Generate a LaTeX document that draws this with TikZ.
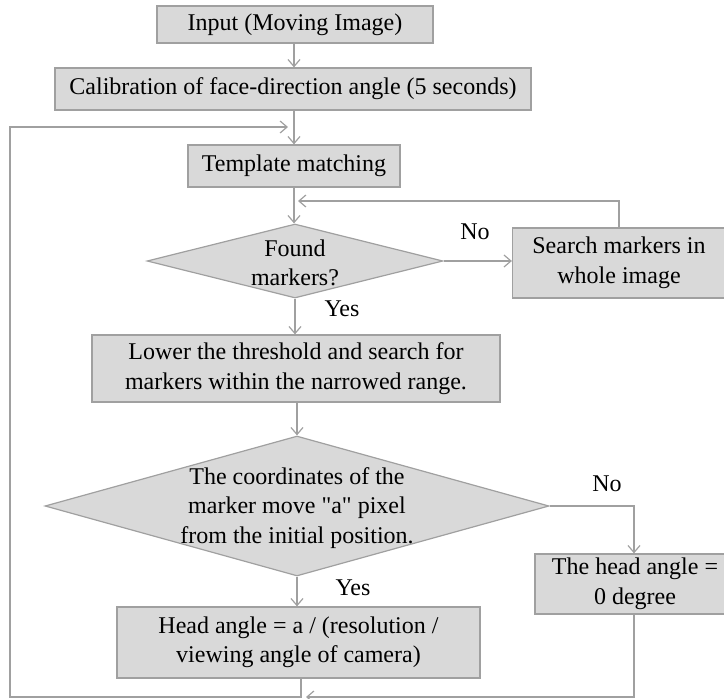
\documentclass[tikz,border=0pt]{standalone}
\usepackage{fontspec}
\setmainfont{Liberation Serif}
\font\qtfont="Liberation Serif" at 24pt
\usetikzlibrary{shapes.geometric,arrows.meta}
\definecolor{boxfill}{HTML}{D9D9D9}
\definecolor{boxline}{HTML}{A0A0A0}
\definecolor{conn}{HTML}{A0A0A0}
\tikzset{
  txt/.style={font=\fontsize{24}{29.5}\selectfont, align=center, text=black},
  box/.style={draw=boxline, fill=boxfill, line width=1.2pt, inner sep=0pt, txt},
  dia/.style={diamond, draw=boxline, fill=boxfill, line width=1.2pt, inner sep=0pt},
  lbl/.style={txt, inner sep=0pt},
  conn/.style={draw=conn, line width=1.2pt},
  arr/.style={conn, -{Straight Barb[length=7pt,width=12pt,line width=1.2pt]}},
}
\begin{document}
\begin{tikzpicture}[x=1pt,y=-1pt]
\clip (0,0) rectangle (724,699);
\useasboundingbox (0,0) rectangle (724,699);
% boxes
\node[box, minimum width=276pt, minimum height=37pt] (in) at (295,24.5) {Input (Moving Image)};
\node[box, minimum width=476pt, minimum height=42pt] (cal) at (293,89) {Calibration of face-direction angle (5 seconds)};
\node[box, minimum width=212pt, minimum height=42pt] (tm) at (294,166) {Template matching};
\node[dia, minimum width=296pt, minimum height=74pt] (d1) at (295,261) {};
\node[lbl] (d1t) at (295,263) {Found\\markers?};
\node[box, minimum width=222pt, minimum height=70pt] (search) at (623.5,263) {};
\node[lbl] (searcht) at (619,263) {Search markers in\\whole image};
\node[box, minimum width=408pt, minimum height=67pt] (lower) at (296,368.5) {Lower the threshold and search for\\markers within the narrowed range.};
\node[dia, minimum width=504pt, minimum height=140pt] (d2) at (297,506) {};
\node[lbl] (d2t) at (297,508) {The coordinates of the\\marker move {\qtfont"}a{\qtfont"} pixel\\from the initial position.};
\node[box, minimum width=200pt, minimum height=60pt] (zero) at (635,584) {};
\node[lbl] (zerot) at (635,584) {The head angle =\\0 degree};
\node[box, minimum width=363pt, minimum height=71pt] (head) at (298.5,642.5) {Head angle = a / (resolution /\\viewing angle of camera)};
% labels
\node[lbl] (no1) at (475,232) {No};
\node[lbl] (yes1) at (342,309) {Yes};
\node[lbl] (no2) at (607,484) {No};
\node[lbl] (yes2) at (353,588) {Yes};
% coordinates for loops
\coordinate (loopin) at (288,127);
\coordinate (fbin) at (298,201);
\coordinate (botin) at (306,697);
% connectors
\draw[arr] (in.south -| 294,0) -- (cal.north -| 294,0);
\draw[arr] (cal.south -| 294,0) -- (tm.north -| 294,0);
\draw[arr] (tm.south -| 294,0) -- (d1.north -| 294,0);
\draw[arr] (d1.east) -- (search.west |- d1.east);
\draw[arr] (search.north -| 619,0) -- (619,201) -- (fbin);
\draw[arr] (d1.south) -- (lower.north -| d1.south);
\draw[arr] (lower.south -| d2.north) -- (d2.north);
\draw[arr] (d2.east) -- (634,506) -- (zero.north -| 634,0);
\draw[arr] (d2.south) -- (head.north -| d2.south);
\draw[arr] (head.south -| 301,0) -- (301,697) -- (10,697) -- (10,127) -- (loopin);
\draw[arr] (zero.south -| 634,0) -- (634,697) -- (botin);
\end{tikzpicture}
\end{document}
